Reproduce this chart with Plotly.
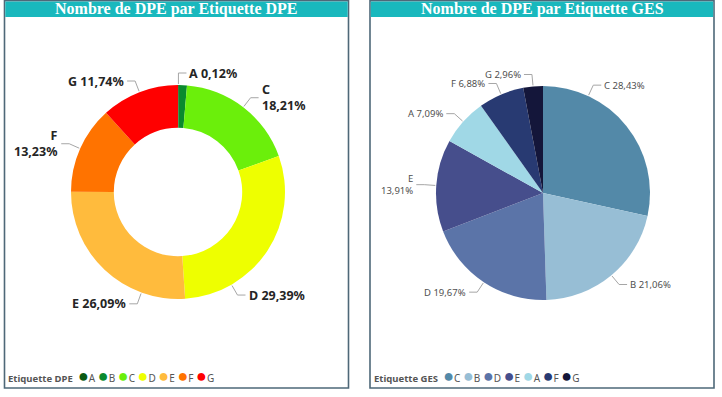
import math
import plotly.graph_objects as go

W, H = 722, 397

# ---- data ----
dpe_labels = ["A", "B", "C", "D", "E", "F", "G"]
dpe_values = [0.12, 1.22, 18.21, 29.39, 26.09, 13.23, 11.74]
dpe_colors = ["#0B5A12", "#0A8A2E", "#6BEF0B", "#EEFF00", "#FFBB3D", "#FF7300", "#FF0000"]

ges_labels = ["C", "B", "D", "E", "A", "F", "G"]
ges_values = [28.43, 21.06, 19.67, 13.91, 7.09, 6.88, 2.96]
ges_colors = ["#5389A8", "#97BED5", "#5B74A8", "#464E8C", "#A0D8E6", "#283A72", "#14163A"]

titles = ["Nombre de DPE par Etiquette DPE", "Nombre de DPE par Etiquette GES"]
legend_titles = ["Etiquette DPE", "Etiquette GES"]

# ---- label layout (styling / placement only) ----
dpe_hidden = {"B"}
dpe_wrapped = {"C", "F"}
dpe_angle_override = {"D": 150, "E": 200}
ges_hidden = set()
ges_wrapped = {"E"}
ges_angle_override = {"C": 25}


def px_x(v):
    return v / W


def px_y(v):
    return 1 - v / H


def domain(cx, cy, r):
    return dict(x=[px_x(cx - r), px_x(cx + r)], y=[px_y(cy + r), px_y(cy - r)])


def fmt_pct(v, total):
    return ("%.2f%%" % (100.0 * v / total)).replace(".", ",")


shapes = []
annotations = []


def add_labels(labels, values, cx, cy, r, hidden, wrapped, override, font):
    total = float(sum(values))
    cum = 0.0
    for lab, v in zip(labels, values):
        mid = (cum + v / 2.0) / total * 360.0
        cum += v
        if lab in hidden:
            continue
        ang = math.radians(override.get(lab, mid))
        sx, sy = math.sin(ang), -math.cos(ang)
        x0, y0 = cx + (r + 1) * sx, cy + (r + 1) * sy
        x1, y1 = cx + (r + 12) * sx, cy + (r + 12) * sy
        side = 1 if sx >= -1e-9 else -1
        x2 = x1 + side * 8
        pts = [(x0, y0), (x1, y1), (x2, y1)]
        path = "M " + " L ".join("%f,%f" % (px_x(a), px_y(b)) for a, b in pts)
        shapes.append(dict(type="path", xref="paper", yref="paper", path=path,
                           line=dict(color="#A6A6A6", width=1)))
        pct = fmt_pct(v, total)
        text = ("%s<br>%s" % (lab, pct)) if lab in wrapped else ("%s %s" % (lab, pct))
        annotations.append(dict(xref="paper", yref="paper", x=px_x(x2 + side * 3), y=px_y(y1),
                                xanchor="left" if side > 0 else "right", yanchor="middle",
                                align="left" if side > 0 else "right",
                                showarrow=False, text=text, font=font,
                                borderpad=0, borderwidth=0))


fig = go.Figure()

DPE_C = (178, 192, 107)
GES_C = (543, 193, 107)

fig.add_trace(go.Pie(
    labels=dpe_labels, values=dpe_values, sort=False, direction="clockwise",
    hole=0.6, domain=domain(*DPE_C),
    marker=dict(colors=dpe_colors, line=dict(width=0)),
    textinfo="none", showlegend=False, hoverinfo="label+percent",
))

fig.add_trace(go.Pie(
    labels=ges_labels, values=ges_values, sort=False, direction="clockwise",
    domain=domain(*GES_C),
    marker=dict(colors=ges_colors, line=dict(width=0)),
    textinfo="none", showlegend=False, hoverinfo="label+percent",
))

add_labels(dpe_labels, dpe_values, *DPE_C, dpe_hidden, dpe_wrapped, dpe_angle_override,
           dict(family="Noto Sans", size=12.5, color="#252525", weight="bold"))
add_labels(ges_labels, ges_values, *GES_C, ges_hidden, ges_wrapped, ges_angle_override,
           dict(family="Noto Sans", size=9.5, color="#505050"))

panels = [(4.5, 348.5), (370, 714)]
for i, (x0, x1) in enumerate(panels):
    shapes.append(dict(type="rect", xref="paper", yref="paper",
                       x0=px_x(x0), x1=px_x(x1), y0=px_y(388), y1=px_y(0.8),
                       line=dict(color="#4E6878", width=1.6), fillcolor="rgba(0,0,0,0)", layer="below"))
    shapes.append(dict(type="rect", xref="paper", yref="paper",
                       x0=px_x(x0 + 0.8), x1=px_x(x1 - 0.8), y0=px_y(17), y1=px_y(1.6),
                       line=dict(width=0), fillcolor="#19B8BD", layer="below"))
    annotations.append(dict(xref="paper", yref="paper", x=px_x((x0 + x1) / 2), y=px_y(9),
                            xanchor="center", yanchor="middle", showarrow=False,
                            text="<b>%s</b>" % titles[i],
                            font=dict(family="Liberation Serif", size=16, color="white")))

legend_specs = [(8, dpe_labels, dpe_colors), (374, ges_labels, ges_colors)]
for i, (lx, labs, cols) in enumerate(legend_specs):
    parts = ['<span style="font-size:9.5px"><b>%s</b></span> ' % legend_titles[i]]
    for lab, col in zip(labs, cols):
        parts.append('<span style="color:%s;font-size:18px">●</span>%s' % (col, lab))
    annotations.append(dict(xref="paper", yref="paper", x=px_x(lx), y=px_y(375),
                            xanchor="left", yanchor="middle", showarrow=False,
                            text=" ".join(parts), borderpad=0, borderwidth=0,
                            font=dict(family="Noto Sans", size=10, color="#555555")))

fig.update_layout(
    width=W, height=H, margin=dict(l=0, r=0, t=0, b=0),
    paper_bgcolor="white", plot_bgcolor="white",
    separators=", ",
    shapes=shapes, annotations=annotations,
)

fig.write_html("out.html", config={"displayModeBar": False},
               post_script="document.body.style.margin='0';")
